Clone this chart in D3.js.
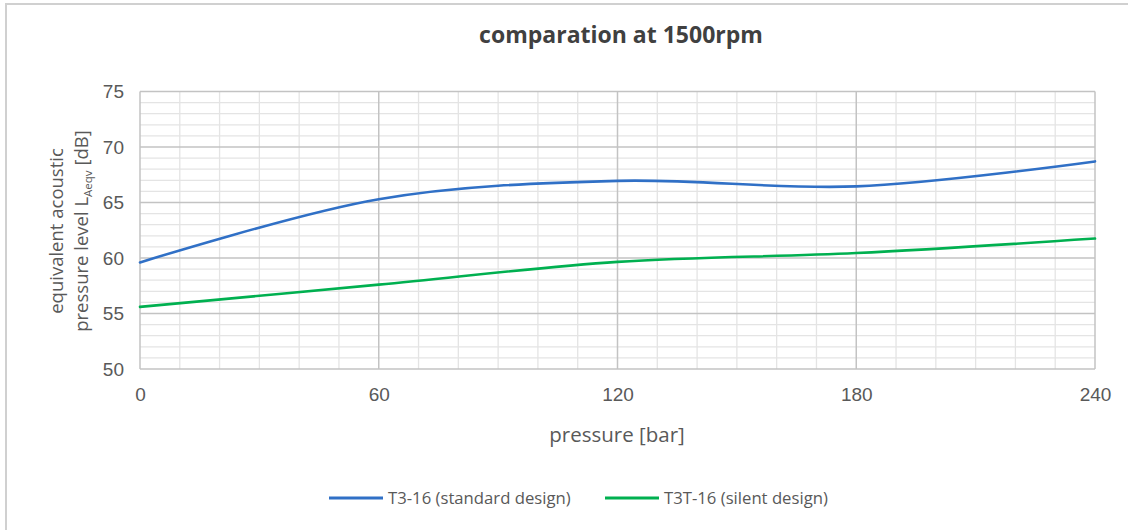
<!DOCTYPE html>
<html>
<head>
<meta charset="utf-8">
<script src="https://cdn.jsdelivr.net/npm/d3@7"></script>
<style>
  html, body { margin: 0; padding: 0; background: #fff; }
  svg { display: block; font-family: "Open Sans", "Liberation Sans", sans-serif; }
</style>
</head>
<body>
<svg id="chart" width="1128" height="530"></svg>
<script>
// pressure [bar]
const pressures = [0, 60, 120, 180, 240];
// equivalent acoustic pressure level [dB]
const standardDesign = [59.6, 65.3, 66.95, 66.45, 68.7];
const silentDesign = [55.6, 57.6, 59.65, 60.45, 61.75];
const xTicks = [0, 60, 120, 180, 240];
const yTicks = [50, 55, 60, 65, 70, 75];
const seriesNames = ['T3-16 (standard design)', 'T3T-16 (silent design)'];
const seriesColors = ['#3070c6', '#00b050'];

const svg = d3.select('#chart');
const margin = { left: 140, right: 1128 - 1095, top: 91.5, bottom: 530 - 369 };
const width = 1128, height = 530;

// outer chart frame (only top/left visible)
svg.append('rect')
  .attr('x', 6).attr('y', 4)
  .attr('width', 1140).attr('height', 540)
  .attr('fill', 'none').attr('stroke', '#d0d0d0').attr('stroke-width', 2);

const x = d3.scaleLinear().domain([0, 240]).range([margin.left, width - margin.right]);
const y = d3.scaleLinear().domain([50, 75]).range([height - margin.bottom, margin.top]);

const grid = svg.append('g');

// minor grid
grid.selectAll('line.vminor')
  .data(d3.range(0, 241, 10).filter((v) => v % 60 !== 0))
  .join('line')
  .attr('x1', (d) => x(d)).attr('x2', (d) => x(d))
  .attr('y1', y(50)).attr('y2', y(75))
  .attr('stroke', '#e4e4e4').attr('stroke-width', 1.3);

grid.selectAll('line.hminor')
  .data(d3.range(50, 76, 1).filter((v) => v % 5 !== 0))
  .join('line')
  .attr('x1', x(0)).attr('x2', x(240))
  .attr('y1', (d) => y(d)).attr('y2', (d) => y(d))
  .attr('stroke', '#e4e4e4').attr('stroke-width', 1.3);

// major grid
grid.selectAll('line.vmajor')
  .data(xTicks)
  .join('line')
  .attr('x1', (d) => x(d)).attr('x2', (d) => x(d))
  .attr('y1', y(50)).attr('y2', y(75))
  .attr('stroke', '#c3c3c3').attr('stroke-width', 1.5);

grid.selectAll('line.hmajor')
  .data(yTicks)
  .join('line')
  .attr('x1', x(0)).attr('x2', x(240))
  .attr('y1', (d) => y(d)).attr('y2', (d) => y(d))
  .attr('stroke', '#c3c3c3').attr('stroke-width', 1.5);

// axes
const xAxis = svg.append('g')
  .attr('transform', `translate(0,${y(50)})`)
  .call(d3.axisBottom(x).tickValues(xTicks).tickSize(0).tickPadding(19));
const yAxis = svg.append('g')
  .attr('transform', `translate(${x(0)},0)`)
  .call(d3.axisLeft(y).tickValues(yTicks).tickSize(0).tickPadding(16));
[xAxis, yAxis].forEach((a) => {
  a.select('.domain').remove();
  a.selectAll('text').attr('fill', '#595959').style('font-size', '19px');
});

// series
const line = d3.line()
  .x((d) => x(d[0]))
  .y((d) => y(d[1]))
  .curve(d3.curveCatmullRom.alpha(0));

[standardDesign, silentDesign].forEach((vals, i) => {
  svg.append('path')
    .datum(pressures.map((p, j) => [p, vals[j]]))
    .attr('d', line)
    .attr('fill', 'none')
    .attr('stroke', seriesColors[i])
    .attr('stroke-width', 2.6)
    .attr('stroke-linecap', 'round');
});

// title
svg.append('text')
  .attr('x', 621).attr('y', 43)
  .attr('text-anchor', 'middle')
  .attr('fill', '#404040')
  .style('font-size', '23px').style('font-weight', 'bold')
  .text('comparation at 1500rpm');

// x axis title
svg.append('text')
  .attr('x', 617).attr('y', 442)
  .attr('text-anchor', 'middle')
  .attr('fill', '#595959')
  .style('font-size', '20.5px')
  .text('pressure [bar]');

// y axis title, two lines
const yt = svg.append('text')
  .attr('transform', 'translate(0,231) rotate(-90)')
  .attr('text-anchor', 'middle')
  .attr('fill', '#595959')
  .style('font-size', '18.5px');
yt.append('tspan').attr('x', 0).attr('y', 63).text('equivalent acoustic');
const l2 = yt.append('tspan').attr('x', 0).attr('y', 88);
l2.append('tspan').text('pressure level L');
l2.append('tspan').attr('dy', 4).style('font-size', '11.5px').text('Aeqv');
l2.append('tspan').attr('dy', -4).text(' [dB]');

// legend
const legend = svg.append('g').attr('transform', 'translate(0,498)');
const legendX = [329, 605];
seriesNames.forEach((name, i) => {
  const g = legend.append('g').attr('transform', `translate(${legendX[i]},0)`);
  g.append('line')
    .attr('x1', 0).attr('x2', 54)
    .attr('stroke', seriesColors[i]).attr('stroke-width', 2.8);
  g.append('text')
    .attr('x', 59).attr('y', 6)
    .attr('fill', '#595959')
    .style('font-size', '16.7px')
    .text(name);
});
</script>
</body>
</html>
